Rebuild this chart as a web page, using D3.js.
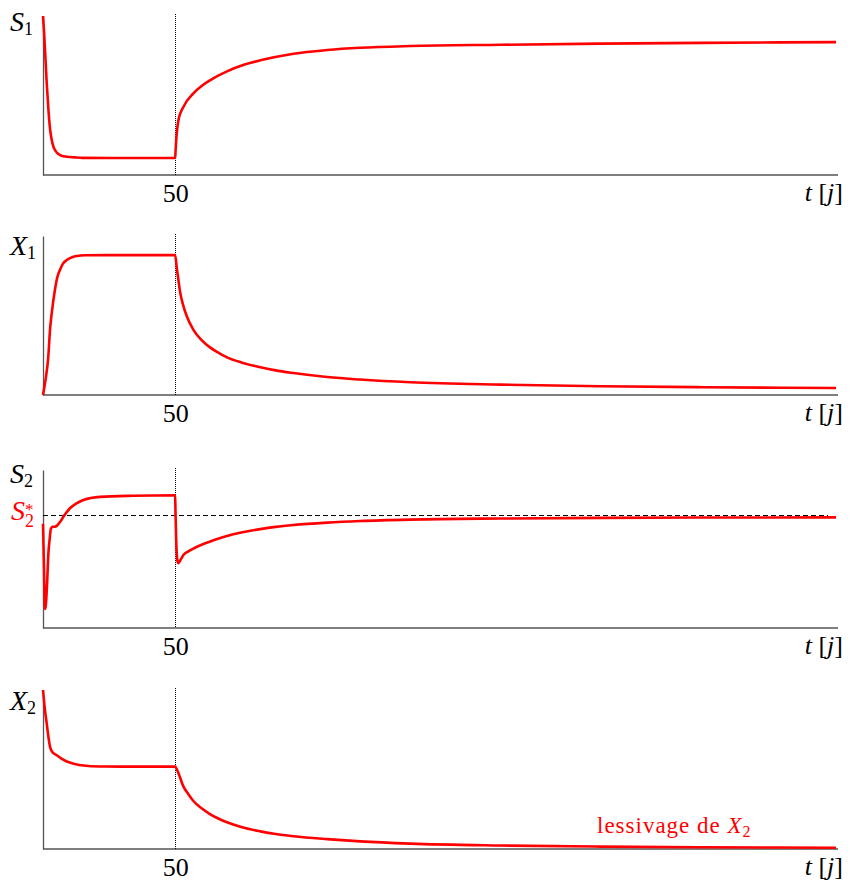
<!DOCTYPE html>
<html><head><meta charset="utf-8">
<script src="https://cdn.jsdelivr.net/npm/d3@7"></script>
<style>
body{margin:0;background:#fff;}
text{font-family:"Liberation Serif","Times New Roman",serif;}
</style></head>
<body><svg id="c" width="853" height="881"></svg>
<script>
// ---- data (t in days, values normalised 0..1 of each panel's height) ----
const tMax = 300;
const tSwitch = 50;
const xTicks = [50];
const s2Star = 0.715;

const tS1 = [0,0.4,0.75,1.4,2.1,2.6,3.2,3.9,4.8,5.8,7,9,12,15,25,35,50,50.15,50.4,51.25,53.1,56.9,60,63.3,69.6,76,82.2,94.8,107.5,120,139,173,211,249,300];
const vS1 = [1,0.9,0.79,0.58,0.4,0.3,0.23,0.18,0.15,0.132,0.121,0.115,0.111,0.108,0.107,0.107,0.107,0.15,0.22,0.346,0.428,0.514,0.56,0.597,0.652,0.693,0.721,0.763,0.786,0.8,0.811,0.819,0.826,0.831,0.836];

const tX1 = [0,1,2,2.65,3.3,4.5,5.4,6.4,7.5,9,11,12.8,16,25,50,50.6,51.25,51.9,53.1,54.4,56.9,60,63.3,66,69.6,75,82.2,88,94.8,107.5,120,139,173,211,250,300];
const vX1 = [0,0.1,0.24,0.41,0.514,0.66,0.74,0.786,0.825,0.849,0.866,0.874,0.879,0.88,0.88,0.80,0.72,0.645,0.56,0.495,0.41,0.345,0.298,0.27,0.237,0.205,0.175,0.155,0.138,0.113,0.097,0.08,0.065,0.055,0.049,0.044];

const tS2 = [0,0.35,0.75,1.1,1.6,2,2.5,3,3.6,4.5,5.3,6.5,7.7,10.2,12.5,15.3,21.6,34,50,50.1,50.4,50.8,51.2,52,53.1,55,56.9,60,63.3,66.5,69.6,75,82.2,88,94.8,107.5,120,139,173,211,250,300];
const vS2 = [0.66,0.4,0.12,0.15,0.3,0.46,0.56,0.63,0.64,0.641,0.648,0.672,0.704,0.758,0.787,0.81,0.83,0.837,0.84,0.75,0.55,0.43,0.41,0.43,0.462,0.485,0.503,0.527,0.548,0.566,0.582,0.604,0.626,0.64,0.652,0.667,0.677,0.686,0.693,0.697,0.699,0.7];

const tX2 = [0,0.7,1.4,2.1,2.65,3.5,5.2,7,9,12,15.3,21.6,30,50,50.5,51.25,53.1,55,56.9,60,63.3,66.5,69.6,75,82.2,88,94.8,107.5,120,139,173,211,250,300];
const vX2 = [1,0.88,0.79,0.7,0.644,0.61,0.59,0.568,0.55,0.535,0.525,0.519,0.518,0.518,0.505,0.477,0.394,0.345,0.302,0.256,0.218,0.19,0.168,0.138,0.111,0.094,0.08,0.062,0.048,0.034,0.022,0.015,0.011,0.008];

const panels = [
  {name:"S", sub:"1", t:tS1, v:vS1, top:16, base:175, ly:15},
  {name:"X", sub:"1", t:tX1, v:vX1, top:236, base:395, ly:19},
  {name:"S", sub:"2", t:tS2, v:vS2, top:470, base:628, ly:13, star:true},
  {name:"X", sub:"2", t:tX2, v:vX2, top:690, base:849, ly:20, washout:true}
];

const svg = d3.select("#c");
const x = d3.scaleLinear().domain([0,tMax]).range([43,836]);

panels.forEach(p=>{
  const y = d3.scaleLinear().domain([0,1]).range([p.base,p.top]);
  const g = svg.append("g");

  // x axis
  const xa = g.append("g").attr("transform",`translate(0,${p.base})`)
    .call(d3.axisBottom(x).tickValues(xTicks).tickSize(0).tickSizeOuter(0).tickPadding(8));
  xa.select(".domain").attr("stroke","#555").attr("stroke-width",1.3).attr("d",`M43,0H838`);
  xa.selectAll(".tick text").attr("font-size",26).attr("fill","#000")
    .attr("font-family","Liberation Serif, serif").attr("dy","0.72em");

  // y axis
  const ya = g.append("g").attr("transform",`translate(${x(0)},0)`)
    .call(d3.axisLeft(y).tickValues([]).tickSizeOuter(0));
  ya.select(".domain").attr("stroke","#555").attr("stroke-width",1.3);

  // vertical dotted line at switch
  const xs = Math.round(x(tSwitch))+0.5;
  g.append("line").attr("x1",xs).attr("x2",xs)
    .attr("y1",p.top-2).attr("y2",p.base)
    .attr("stroke","#000").attr("stroke-width",1).attr("stroke-dasharray","1,1");

  if(p.star){
    const ys = Math.round(y(s2Star))+0.5;
    g.append("line").attr("x1",x(0)).attr("x2",828)
      .attr("y1",ys).attr("y2",ys)
      .attr("stroke","#000").attr("stroke-width",1).attr("stroke-dasharray","5,3");
    const st = g.append("text").attr("x",11).attr("y",y(s2Star)+5).attr("fill","#ff0000").attr("font-size",28);
    st.append("tspan").attr("font-style","italic").text("S");
    st.append("tspan").attr("font-size",18).attr("dy",7).text("2");
    st.append("tspan").attr("font-size",17).attr("dx",-9).attr("dy",-12).text("*");
  }

  // curve
  const line = d3.line().x((d,i)=>x(p.t[i])).y((d,i)=>y(p.v[i])).curve(d3.curveMonotoneX);
  g.append("path").datum(p.v).attr("d",line).attr("fill","none")
    .attr("stroke","#ff0000").attr("stroke-width",2.6).attr("stroke-linejoin","round");

  // y label
  const lb = g.append("text").attr("x",10).attr("y",p.top+p.ly).attr("font-size",28).attr("fill","#000");
  lb.append("tspan").attr("font-style","italic").text(p.name);
  lb.append("tspan").attr("font-size",18).attr("dy",4).text(p.sub);

  // t [j] label
  const tl = g.append("text").attr("x",843).attr("y",p.base+26).attr("text-anchor","end").attr("font-size",26).attr("fill","#000");
  tl.append("tspan").attr("font-style","italic").text("t");
  tl.append("tspan").text(" [");
  tl.append("tspan").attr("font-style","italic").text("j");
  tl.append("tspan").text("]");

  if(p.washout){
    const w = g.append("text").attr("x",597).attr("y",p.base-16).attr("font-size",23)
      .attr("letter-spacing",1).attr("fill","#ff0000");
    w.append("tspan").text("lessivage de ");
    w.append("tspan").attr("font-style","italic").text("X");
    w.append("tspan").attr("font-size",16).attr("dy",4).text("2");
  }
});
</script></body></html>
